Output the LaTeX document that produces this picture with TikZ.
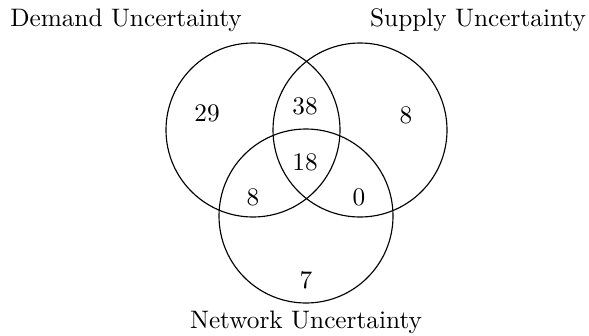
\documentclass[tikz,border=0pt]{standalone}
\usepackage{amsmath}
\usetikzlibrary{positioning, calc}
\definecolor{c1}{HTML}{000000}

\begin{document}
\begin{tikzpicture}[
    x=0.0139cm, y=-0.0139cm,
    every node/.style={font=\normalsize, text=c1},
    set/.style={draw=c1, line width=0.45pt},
    num/.style={font=\normalsize, text=c1},
    title/.style={font=\normalsize, text=c1},
]

\def\R{87}

\useasboundingbox (0,0) rectangle (589,335);

% ---------------------------------------------------------------- the sets
\coordinate (demand)  at (253, 130);
\coordinate (supply)  at (360, 130);
\coordinate (network) at (306, 216);

\foreach \c in {demand, supply, network}{
    \draw[set] (\c) circle (\R);
}

% ---------------------------------------------------------------- the titles
\node[title] (tdemand)  at (126, 20) {Demand Uncertainty};
\node[title] (tsupply)  at (478, 20) {Supply Uncertainty};
\node[title] (tnetwork) at (306, 322) {Network Uncertainty};

% ---------------------------------------------------------------- the counts
\node[num] (nd)   at (207, 113) {29};
\node[num] (ns)   at (406, 115) {8};
\node[num] (nn)   at (306, 280) {7};
\node[num] (nds)  at (305, 106) {38};
\node[num] (ndsn) at (305, 162) {18};
\node[num] (ndn)  at (253, 197) {8};
\node[num] (nsn)  at (359, 197) {0};

\end{tikzpicture}
\end{document}
